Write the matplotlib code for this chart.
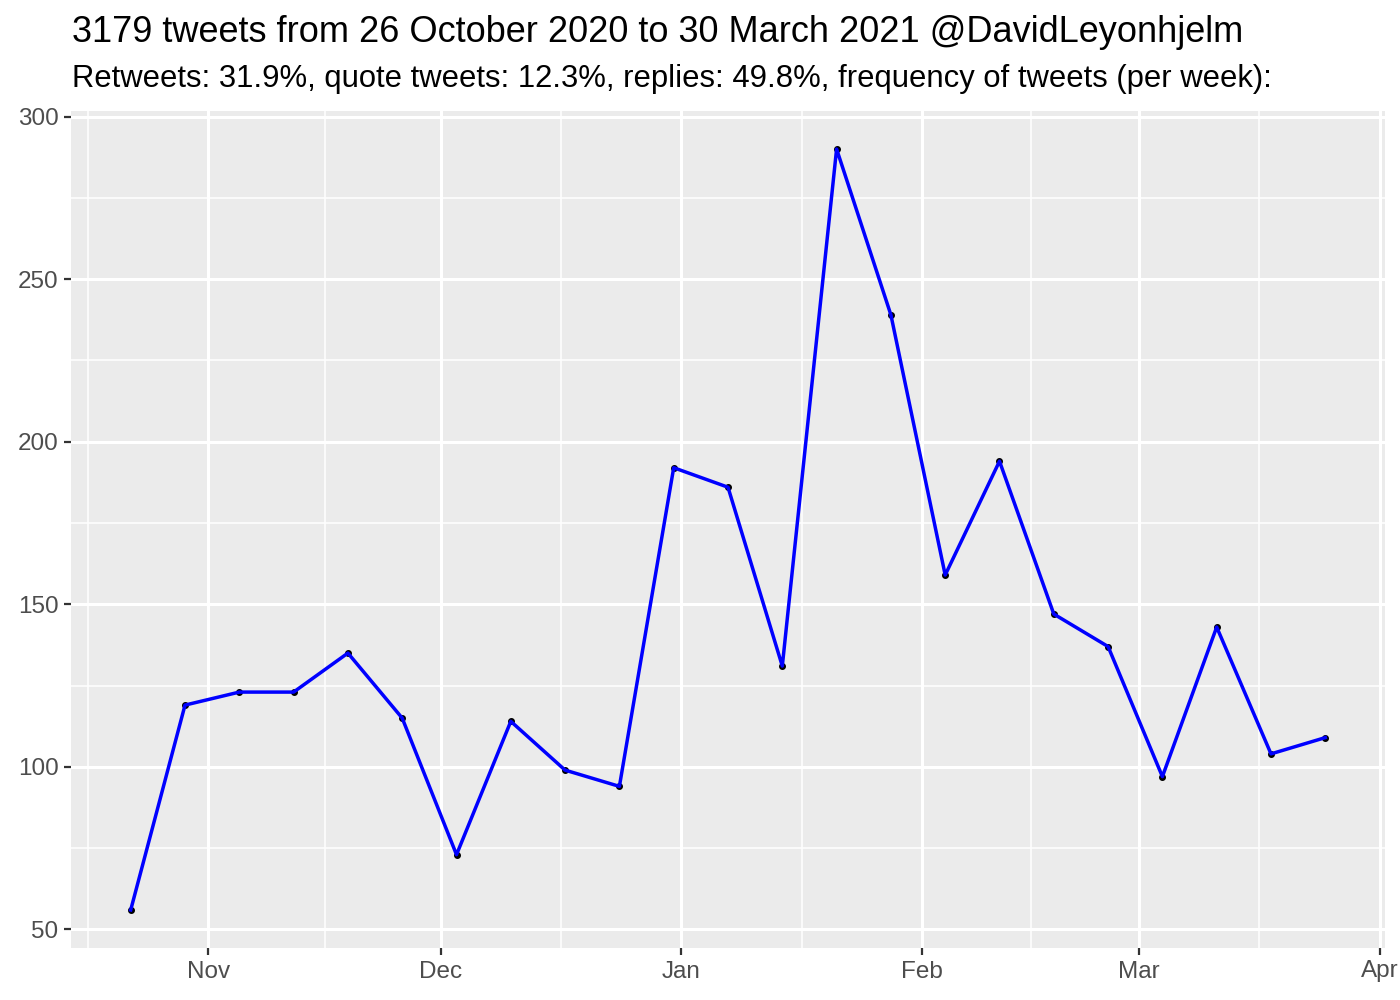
import matplotlib
matplotlib.use("Agg")
import matplotlib.pyplot as plt
import matplotlib.dates as mdates
import numpy
import pandas

# weekly tweet counts (weeks floored to Thursday)
week_start = "2020-10-22"
n_weeks = 23
tweets_per_week = [56, 119, 123, 123, 135, 115, 73, 114, 99, 94, 192, 186,
                   131, 290, 239, 159, 194, 147, 137, 97, 143, 104, 109]
y_ticks = [50, 100, 150, 200, 250, 300]
month_starts = ["2020-10-01", "2020-11-01", "2020-12-01", "2021-01-01",
                "2021-02-01", "2021-03-01", "2021-04-01"]

title = "3179 tweets from 26 October 2020 to 30 March 2021 @DavidLeyonhjelm"
subtitle = ("Retweets: 31.9%, quote tweets: 12.3%, replies: 49.8%, "
            "frequency of tweets (per week):")

plt.rcParams['font.family'] = ['Liberation Sans', 'DejaVu Sans']

dates = pandas.date_range(week_start, periods=n_weeks, freq="7D")
x_vector = mdates.date2num(dates.to_pydatetime())
y_vector = numpy.array(tweets_per_week, dtype=float)

fig = plt.figure(figsize=(14, 10), dpi=100)
ax = fig.add_axes([0.0507, 0.052, 0.9386, 0.837])
ax.set_facecolor("#EBEBEB")
for side in ax.spines.values():
    side.set_visible(False)

# ggplot-like 5% expansion
x_pad = (x_vector.max() - x_vector.min()) * 0.05
y_pad = (y_vector.max() - y_vector.min()) * 0.05
ax.set_xlim(x_vector.min() - x_pad, x_vector.max() + x_pad)
ax.set_ylim(y_vector.min() - y_pad, y_vector.max() + y_pad)

months = pandas.to_datetime(month_starts)
month_nums = mdates.date2num(months.to_pydatetime())
ax.set_xticks(month_nums[1:])
ax.set_xticklabels(months[1:].strftime("%b"))
ax.set_xticks((month_nums[:-1] + month_nums[1:]) / 2, minor=True)
ax.set_yticks(y_ticks)
minor_y = [(a + b) / 2 for a, b in zip(y_ticks[:-1], y_ticks[1:])]
ax.set_yticks(minor_y, minor=True)

ax.grid(which="major", color="white", linewidth=2.2)
ax.grid(which="minor", color="white", linewidth=1.1)
ax.set_axisbelow(True)

ax.tick_params(which="major", length=5, width=1.6, color="#333333",
               labelsize=17.5, labelcolor="#4D4D4D", pad=4)
ax.tick_params(which="minor", length=0)

ax.scatter(x_vector, y_vector, s=16, color="black", zorder=2)
ax.plot(x_vector, y_vector, color="#0000FF", linewidth=2.5, zorder=3)

fig.text(0.0515, 0.958, title, fontsize=26, color="black", va="baseline")
fig.text(0.0515, 0.913, subtitle, fontsize=22.3, color="black", va="baseline")

fig.savefig("out.png", dpi=100)
